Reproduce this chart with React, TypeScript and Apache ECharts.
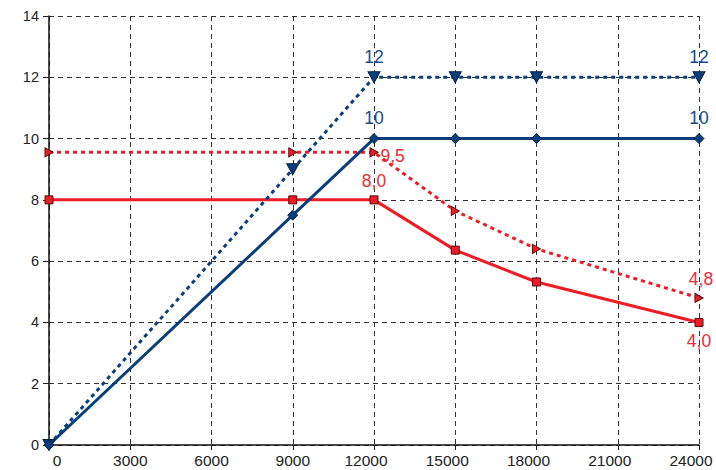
import React, { useEffect, useRef } from "react";
import * as echarts from "echarts";

const xValues = [0, 9000, 12000, 15000, 18000, 24000];
const blueSolid = [0, 7.5, 10, 10, 10, 10];
const blueDotted = [0, 9, 12, 12, 12, 12];
const redSolid = [8, 8, 8, 6.36, 5.32, 4.0];
const redDotted = [9.55, 9.55, 9.55, 7.64, 6.4, 4.8];

const blueSolidLabels = ["", "", "10", "", "", "10"];
const blueDottedLabels = ["", "", "12", "", "", "12"];
const redSolidLabels = ["", "", "8,0", "", "", "4,0"];
const redDottedLabels = ["", "", "9,5", "", "", "4,8"];

const xTicks = [0, 3000, 6000, 9000, 12000, 15000, 18000, 21000, 24000];
const yTicks = [0, 2, 4, 6, 8, 10, 12, 14];

const BLUE = "#0a3f7c";
const RED = "#ec1d27";
const FONT = "Liberation Sans, Arial, sans-serif";

function build(
  ys: number[],
  labels: string[],
  labelColor: string,
  positions: Record<number, any>
) {
  return xValues.map((x, i) => {
    const item: any = { value: [x, ys[i]] };
    if (labels[i]) {
      item.label = {
        show: true,
        formatter: labels[i],
        color: labelColor,
        fontSize: 17.5,
        fontFamily: FONT,
        ...(positions[i] || { position: "top" }),
      };
    }
    return item;
  });
}

export default function App() {
  const ref = useRef<HTMLDivElement>(null);
  useEffect(() => {
    if (!ref.current) return;
    const chart = echarts.init(ref.current, null, { renderer: "svg" });
    const gridLine = { show: true, lineStyle: { color: "#333", width: 1, type: [5, 4] as any } };
    const xl = { fontSize: 15.5, fontFamily: FONT, color: "#222" };
    chart.setOption({
      animation: false,
      backgroundColor: "#fff",
      grid: { left: 49, right: 17, top: 16, bottom: 25, containLabel: false, outerBoundsMode: "none" },
      xAxis: {
        type: "value",
        min: 0,
        max: 24000,
        interval: 3000,
        axisLine: { show: true, onZero: false, lineStyle: { color: "#111", width: 1.5 } },
        axisTick: { show: true, length: 6, lineStyle: { color: "#222", type: [5, 4] as any } },
        axisLabel: {
          ...xl,
          margin: 7,
          formatter: (v: number) =>
            v === 0 ? "{z|0}" : v >= 10000 ? "{w|" + v + "}" : "{n|" + v + "}",
          rich: {
            z: { ...xl, padding: [0, 0, 0, 16] },
            w: { ...xl, padding: [0, 16, 0, 0] },
            n: { ...xl },
          },
          customValues: xTicks,
        },
        splitLine: gridLine,
      },
      yAxis: {
        type: "value",
        min: 0,
        max: 14,
        interval: 2,
        axisLine: { show: true, onZero: false, lineStyle: { color: "#111", width: 1.5 } },
        axisTick: { show: true, length: 6, lineStyle: { color: "#222" } },
        axisLabel: {
          color: "#222",
          fontSize: 14.5,
          fontFamily: FONT,
          margin: 10,
          customValues: yTicks,
        },
        splitLine: gridLine,
      },
      series: [
        {
          type: "line",
          z: 3,
          data: build(redDotted, redDottedLabels, "#ef2a33", {
            2: { position: "right", offset: [-3, 4] },
            5: { position: "top", offset: [2, 0] },
          }),
          lineStyle: { color: RED, width: 3, type: [4, 4] as any },
          symbol: "triangle",
          symbolRotate: -90,
          symbolSize: [9, 8],
          itemStyle: { color: RED, borderColor: "#5a0a0a", borderWidth: 1 },
        },
        {
          type: "line",
          z: 3,
          data: build(redSolid, redSolidLabels, "#ef2a33", {
            2: { position: "top", offset: [0, 0] },
            5: { position: "bottom", offset: [0, 0] },
          }),
          lineStyle: { color: RED, width: 3 },
          symbol: "rect",
          symbolSize: 8,
          itemStyle: { color: RED, borderColor: "#5a0a0a", borderWidth: 1 },
        },
        {
          type: "line",
          z: 4,
          data: build(blueDotted, blueDottedLabels, "#174a86", {
            2: { position: "top", offset: [0, 0] },
            5: { position: "top", offset: [0, 0] },
          }),
          lineStyle: { color: BLUE, width: 3, type: [4, 4] as any },
          symbol: "triangle",
          symbolRotate: 180,
          symbolSize: [12, 11],
          itemStyle: { color: BLUE, borderColor: "#04203f", borderWidth: 1 },
        },
        {
          type: "line",
          z: 4,
          data: build(blueSolid, blueSolidLabels, "#174a86", {
            2: { position: "top", offset: [0, -1] },
            5: { position: "top", offset: [0, -1] },
          }),
          lineStyle: { color: BLUE, width: 3 },
          symbol: "diamond",
          symbolSize: [10, 10],
          itemStyle: { color: BLUE, borderColor: "#04203f", borderWidth: 1 },
        },
      ],
    });
    return () => chart.dispose();
  }, []);
  return <div ref={ref} style={{ width: 716, height: 470, position: "absolute", left: 0, top: 0 }} />;
}
